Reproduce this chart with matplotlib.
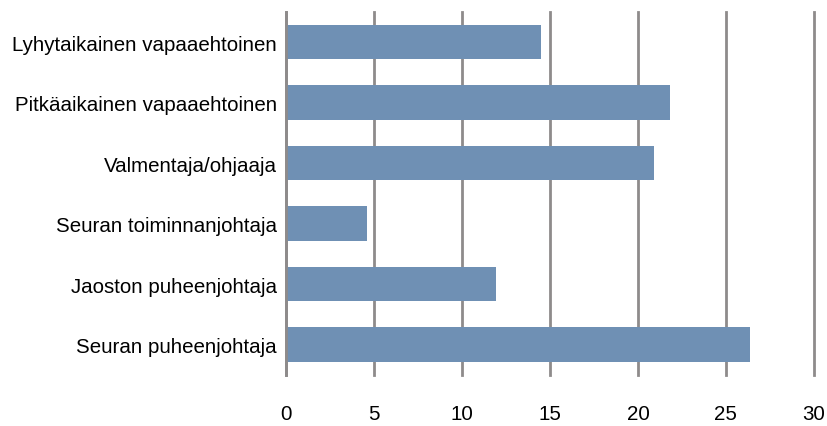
import matplotlib
matplotlib.use("Agg")
import matplotlib.pyplot as plt

roles = [
    "Lyhytaikainen vapaaehtoinen",
    "Pitkäaikainen vapaaehtoinen",
    "Valmentaja/ohjaaja",
    "Seuran toiminnanjohtaja",
    "Jaoston puheenjohtaja",
    "Seuran puheenjohtaja",
]
values = [14.5, 21.8, 20.9, 4.6, 11.9, 26.4]
xticks = [0, 5, 10, 15, 20, 25, 30]

plt.rcParams["font.family"] = ["Liberation Sans", "DejaVu Sans"]

fig = plt.figure(figsize=(8.27, 4.27), dpi=100)
ax = fig.add_axes([0.3464, 0.1201, 0.6375, 0.8495])

pos = list(range(len(roles)))
ax.barh(pos, values, height=0.57, color="#6f90b4", zorder=3)
ax.set_ylim(len(roles) - 0.5, -0.5)
ax.set_xlim(0, 30)
ax.set_xticks(xticks)
ax.set_yticks(pos)
ax.set_yticklabels(roles)

grid_col = "#8e8b8b"
ax.grid(axis="x", color=grid_col, linewidth=2.0, zorder=0)
for gl in ax.get_xgridlines():
    gl.set_clip_on(False)
for side in ["top", "right", "bottom"]:
    ax.spines[side].set_visible(False)
ax.spines["left"].set_color(grid_col)
ax.spines["left"].set_linewidth(2.0)
ax.spines["left"].set_zorder(4)

ax.tick_params(axis="y", length=0, pad=7, labelsize=14.8)
ax.tick_params(axis="x", length=0, pad=21, labelsize=14.8)

fig.savefig("out.png", dpi=100)
